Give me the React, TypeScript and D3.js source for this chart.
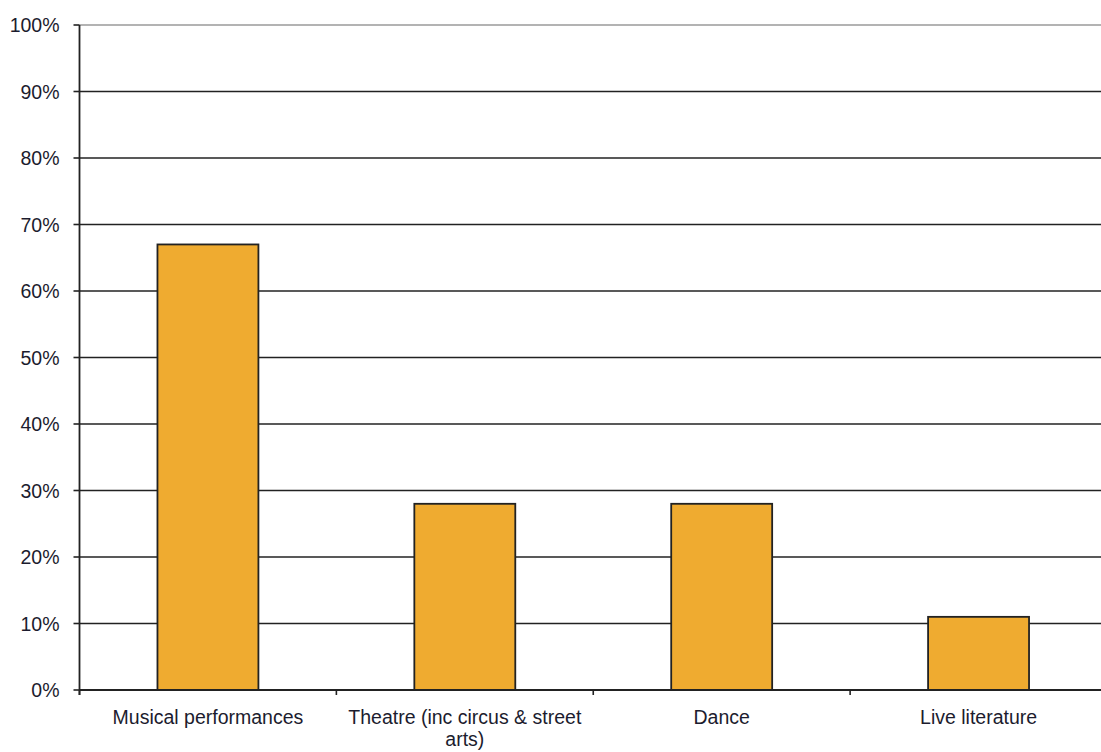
import React, { useEffect, useRef } from "react";
import * as d3 from "d3";

const categories = [
  "Musical performances",
  "Theatre (inc circus & street arts)",
  "Dance",
  "Live literature",
];
const values = [67, 28, 28, 11];
const yTicks = [0, 10, 20, 30, 40, 50, 60, 70, 80, 90, 100];

const W = 1101;
const H = 752;

export default function App() {
  const ref = useRef<SVGSVGElement | null>(null);

  useEffect(() => {
    const svg = d3.select(ref.current);
    svg.selectAll("*").remove();

    const left = 79.5;
    const right = 1107;
    const top = 25;
    const bottom = 690;

    const x = d3
      .scaleBand<string>()
      .domain(categories)
      .range([left, right])
      .paddingInner(0.607)
      .paddingOuter(0.3035);
    const step = (right - left) / categories.length;

    const y = d3.scaleLinear().domain([0, 100]).range([bottom, top]);

    const font = "'Liberation Sans', Arial, sans-serif";
    const textColor = "#1c1c2e";
    const fontSize = 19.5;

    // horizontal gridlines
    svg
      .append("g")
      .selectAll("line")
      .data(yTicks.filter((t) => t > 0))
      .join("line")
      .attr("x1", left)
      .attr("x2", W)
      .attr("y1", (d) => y(d))
      .attr("y2", (d) => y(d))
      .attr("stroke", (d) => (d === 100 ? "#9a9a9a" : "#222"))
      .attr("stroke-width", 1.6);

    // bars
    svg
      .append("g")
      .selectAll("rect")
      .data(categories)
      .join("rect")
      .attr("x", (d) => x(d)!)
      .attr("width", x.bandwidth())
      .attr("y", (d, i) => y(values[i]))
      .attr("height", (d, i) => bottom - y(values[i]))
      .attr("fill", "#EFAB30")
      .attr("stroke", "#222")
      .attr("stroke-width", 1.8);

    // y axis line and ticks
    svg
      .append("line")
      .attr("x1", left)
      .attr("x2", left)
      .attr("y1", top)
      .attr("y2", bottom + 5)
      .attr("stroke", "#222")
      .attr("stroke-width", 1.8);
    svg
      .append("g")
      .selectAll("line")
      .data(yTicks)
      .join("line")
      .attr("x1", left - 6)
      .attr("x2", left)
      .attr("y1", (d) => y(d))
      .attr("y2", (d) => y(d))
      .attr("stroke", "#222")
      .attr("stroke-width", 1.6);
    svg
      .append("g")
      .selectAll("text")
      .data(yTicks)
      .join("text")
      .attr("x", 59.5)
      .attr("y", (d) => y(d))
      .attr("dy", "0.36em")
      .attr("text-anchor", "end")
      .attr("font-family", font)
      .attr("font-size", fontSize)
      .attr("fill", textColor)
      .text((d) => `${d}%`);

    // x axis line and category boundary ticks
    svg
      .append("line")
      .attr("x1", left)
      .attr("x2", W)
      .attr("y1", bottom)
      .attr("y2", bottom)
      .attr("stroke", "#222")
      .attr("stroke-width", 1.8);
    svg
      .append("g")
      .selectAll("line")
      .data(d3.range(categories.length + 1))
      .join("line")
      .attr("x1", (i) => left + i * step)
      .attr("x2", (i) => left + i * step)
      .attr("y1", bottom)
      .attr("y2", bottom + 5)
      .attr("stroke", "#222")
      .attr("stroke-width", 1.6);

    // category labels (wrapped to the band width)
    const labelLines: Record<string, string[]> = {
      "Theatre (inc circus & street arts)": ["Theatre (inc circus & street", "arts)"],
    };
    const lbl = svg
      .append("g")
      .selectAll("text")
      .data(categories)
      .join("text")
      .attr("text-anchor", "middle")
      .attr("font-family", font)
      .attr("font-size", fontSize)
      .attr("fill", textColor)
      .attr("x", (d) => x(d)! + x.bandwidth() / 2)
      .attr("y", 723.5);
    lbl.each(function (d) {
      const lines = labelLines[d] || [d];
      const t = d3.select(this);
      lines.forEach((line, i) => {
        t.append("tspan")
          .attr("x", x(d)! + x.bandwidth() / 2)
          .attr("dy", i === 0 ? 0 : 22.5)
          .text(line);
      });
    });
  }, []);

  return (
    <div style={{ position: "fixed", left: 0, top: 0 }}>
      <svg ref={ref} width={W} height={H} style={{ display: "block", background: "#fff" }} />
    </div>
  );
}
